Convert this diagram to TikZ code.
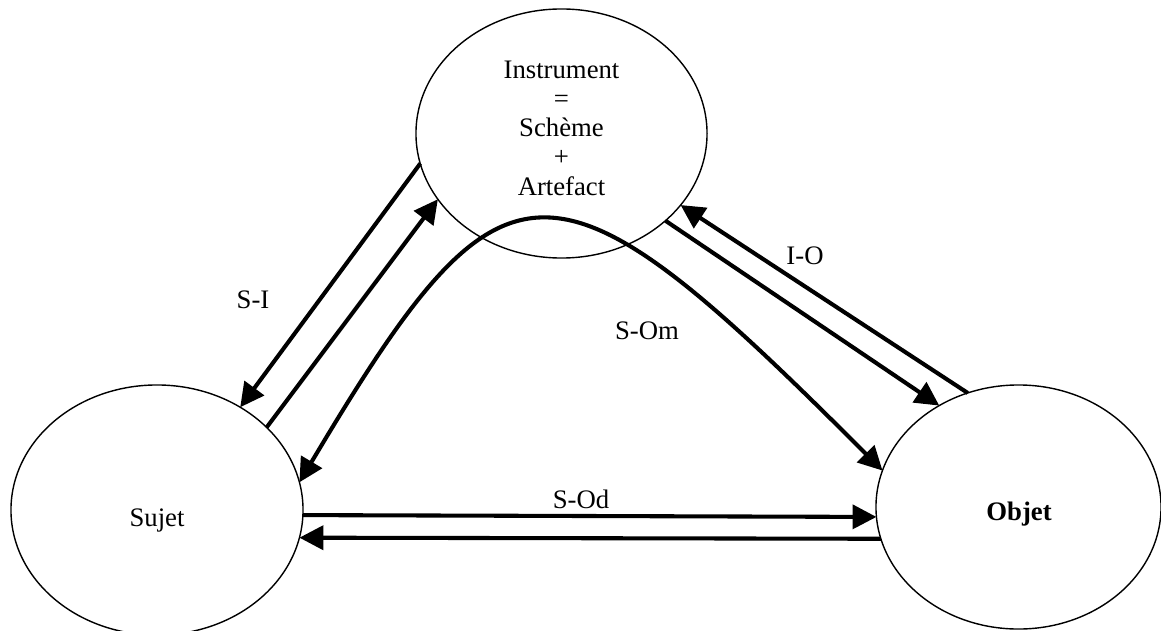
\documentclass[tikz,border=0pt]{standalone}
\usepackage{fontspec}
\setmainfont{Liberation Serif}
\usetikzlibrary{shapes.geometric,arrows.meta}
\begin{document}
\begin{tikzpicture}[x=0.025cm, y=-0.025cm,
        pole/.style={draw, ellipse, line width=1pt, inner sep=0pt, outer sep=0pt},
        txt/.style={font=\fontsize{19}{20.8}\selectfont, align=center, inner sep=0pt},
        oneway/.style={line width=2.9pt, -{Triangle[length=17pt,width=17pt]}},
        twoway/.style={line width=2.9pt, {Triangle[length=17pt,width=17pt]}-{Triangle[length=17pt,width=17pt]}}]
        \useasboundingbox (0,0) rectangle (1161,630);
        \node [pole, minimum width=7.275cm, minimum height=6.225cm] (instr) at (561.5,133.5) {};
        \node [pole, minimum width=7.3cm, minimum height=6.25cm] (sujet) at (157,510) {};
        \node [pole, minimum width=7.125cm, minimum height=6.1cm] (objet) at (1018.5,507) {};
        \node [txt] (instrtxt) at (561.5,128) {Instrument\\=\\Schème\\+\\Artefact};
        \node [txt] (sujettxt) at (157,520) {Sujet};
        \node [txt] (objettxt) at (1019,514) {\bfseries Objet};
        \draw [oneway] (instr.192.7) -- (sujet.51.8);
        \draw [oneway] (sujet.37.5) -- (instr.208.4);
        \draw [oneway] (objet.114.5) -- (instr.329.4);
        \draw [oneway] (instr.320.2) -- (objet.128.8);
        \draw [oneway] (sujet.-2.7) -- (objet.184);
        \draw [oneway] (objet.193.1) -- (sujet.-11.5);
        \draw [twoway] (sujet.11.8) .. controls (505,137) and (550,137) .. (objet.165.3);
        \node [txt] (si) at (253,300) {S-I};
        \node [txt] (io) at (805,256) {I-O};
        \node [txt] (som) at (647,331) {S-Om};
        \node [txt] (sod) at (581,499) {S-Od};
    \end{tikzpicture}
\end{document}
